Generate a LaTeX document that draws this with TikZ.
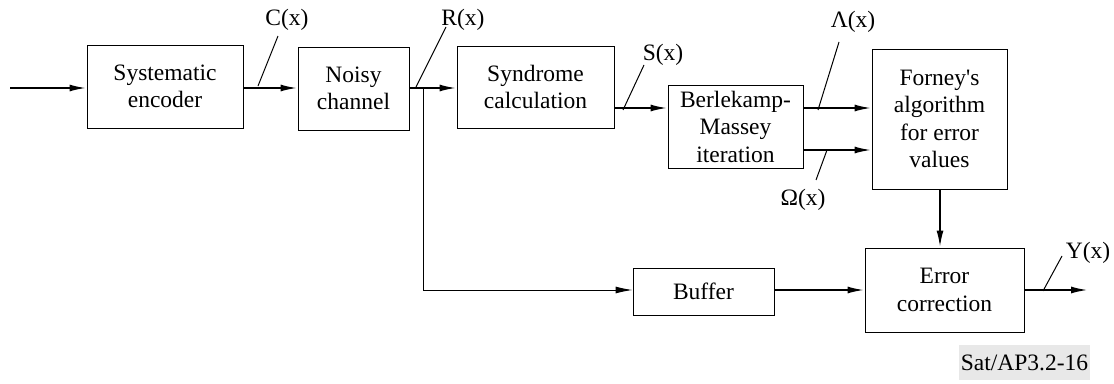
\documentclass[tikz,border=0pt]{standalone}
\usepackage{fontspec}
\setmainfont{Liberation Serif}[Ligatures=TeXOff]
\newfontfamily\tnr{Liberation Serif}[Ligatures=TeXOff]
\usetikzlibrary{arrows.meta}
\begin{document}
\begin{tikzpicture}[x=1pt,y=-1pt,
  txt/.style={font={\tnr\fontsize{23.5}{27.5}\selectfont}},
  blk/.style={draw,line width=1pt,minimum width=#1,inner sep=0pt,align=center,txt},
  sig/.style={line width=2pt,-{Latex[length=17pt,width=7pt]}},
  fine/.style={line width=1pt},
  lbl/.style={inner sep=0pt,txt}]
\useasboundingbox (0,0) rectangle (1114,383);
\node[blk=156pt,minimum height=83pt] (enc) at (165,86.5) {Systematic\\encoder};
\node[blk=111pt,minimum height=83pt] (noisy) at (353.5,88.5) {Noisy\\channel};
\node[blk=157pt,minimum height=82pt] (synd) at (535.5,87) {Syndrome\\calculation};
\node[blk=135pt,minimum height=83pt] (bm) at (735.5,126.5) {Berlekamp-\\Massey\\iteration};
\node[blk=135pt,minimum height=140pt] (forney) at (939.5,119) {Forney's\\algorithm\\for error\\values};
\node[blk=159pt,minimum height=84pt] (errc) at (944.5,290) {Error\\correction};
\node[blk=141pt,minimum height=47pt] (buf) at (703.5,291.5) {Buffer};
\coordinate (in) at (10,88);
\coordinate (jn) at (423,88);
\coordinate (jb) at (423,290);
\coordinate (out) at (1088,290);
% signals
\draw[sig] (in) -- (enc.west |- in);
\draw[sig] (enc.east |- in) -- (noisy.west |- in);
\draw[sig] (noisy.east |- in) -- (synd.west |- in);
\draw[sig] (synd.east |- 0,108) -- (bm.west |- 0,108);
\draw[sig] (bm.east |- 0,108) -- (forney.west |- 0,108);
\draw[sig] (bm.east |- 0,150) -- (forney.west |- 0,150);
\draw[sig] (forney.south -| 940,0) -- (errc.north -| 940,0);
\draw[sig] (buf.east |- 0,290) -- (errc.west |- 0,290);
\draw[sig] (errc.east |- out) -- (out);
\draw[fine,-{Latex[length=17pt,width=7pt]}] (jn) -- (jb) -- (buf.west |- jb);
% slashes and labels
\coordinate (c1) at (258,86); \coordinate (c2) at (278,36);
\coordinate (r1) at (416,87); \coordinate (r2) at (446,27);
\coordinate (s1) at (623,110); \coordinate (s2) at (644,65);
\coordinate (l1) at (818,110); \coordinate (l2) at (839,42);
\coordinate (o1) at (827,150); \coordinate (o2) at (816,180);
\coordinate (y1) at (1043,291); \coordinate (y2) at (1062,256);
\draw[fine] (c1) -- (c2);
\draw[fine] (r1) -- (r2);
\draw[fine] (s1) -- (s2);
\draw[fine] (l1) -- (l2);
\draw[fine] (o1) -- (o2);
\draw[fine] (y1) -- (y2);
\node[lbl] (lc) at (287,20) {C(x)};
\node[lbl] (lr) at (463,20) {R(x)};
\node[lbl] (ls) at (663,55) {S(x)};
\node[lbl] (ll) at (853,22) {Λ(x)};
\node[lbl] (lo) at (803,200) {Ω(x)};
\node[lbl] (ly) at (1088,253) {Y(x)};
\node[lbl,fill=black!9,minimum width=131pt,minimum height=35pt] (tag) at (1024.5,362.5) {Sat/AP3.2-16};
\end{tikzpicture}
\end{document}
